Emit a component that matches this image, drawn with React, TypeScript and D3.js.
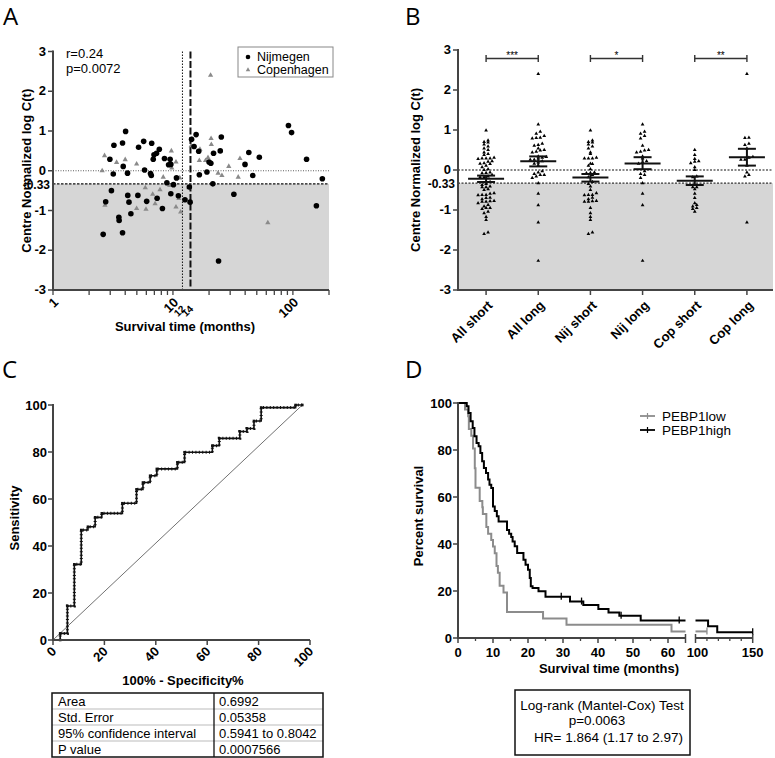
import React from 'react';
import * as d3 from 'd3';

// ---- Panel A: survival time vs centre normalized log C(t)
const nijTime = [3.22, 3.8, 4.03, 2.98, 3.18, 3.85, 4.18, 5.17, 5.7, 6.65, 5.8, 6.5, 6.6, 6.95, 7.3, 6.85, 7.7, 8.5, 9.47, 9.2,
  9.6, 8.9, 10.1, 10.7, 3.07, 2.75, 2.62, 3.54, 3.56, 3.8, 4.2, 4.3, 4.46, 5.1, 6.04, 7.38, 8.17, 9.6, 11.1, 12.6,
  13.7, 13.9, 14.3, 15.6, 15.0, 16.4, 16.6, 19.2, 20.0, 20.7, 21.8, 21.5, 24.8, 25.3, 24.0, 32.2, 39.9, 42.9, 46.3, 52.5,
  91.8, 97.5, 130, 157, 176];
const nijValue = [0.64, 0.70, 0.99, 0.29, -0.08, 0.11, -0.06, 0.59, 0.74, 0.69, 0.02, -0.07, -0.12, 0.40, 0.44, 0.29, 0.54, 0.31, 0.29, 0.15,
  0.16, -0.30, -0.35, -0.18, -0.50, -0.78, -1.60, -1.17, -1.25, -1.56, -0.62, -0.79, -1.08, -0.62, -0.77, -0.69, -0.95, -0.58, -0.63, -0.73,
  -0.41, -0.79, 0.79, 0.91, 0.61, 0.49, -0.10, -0.03, 0.22, 0.19, 0.44, -0.33, 0.50, 0.85, -2.27, -0.59, 0.16, 0.46, -0.12, 0.34,
  1.14, 0.96, 0.29, -0.88, -0.20];
const copTime = [2.69, 2.57, 3.39, 4.0, 4.98, 2.71, 4.98, 5.96, 5.88, 6.78, 7.1, 7.8, 8.3, 9.4, 9.7, 9.78, 10.6, 10.6, 11.6, 11.2,
  11.4, 13.6, 20.6, 14.2, 14.4, 16.8, 16.6, 18.7, 19.6, 20.8, 20.9, 23.8, 25.6, 29.2, 36.2, 35.0, 61.8];
const copValue = [0.38, 0.0, 0.21, 0.28, 0.17, -0.87, -0.95, -0.97, -0.43, -0.59, -0.83, -0.48, -0.16, -0.37, 0.50, 0.07, 0.22, -0.91, -1.04, -0.70,
  -0.18, -0.43, 2.40, 0.63, 0.80, 0.54, 0.26, 0.26, 0.33, 0.81, 0.66, -0.06, -0.12, 0.11, 0.31, -0.16, -1.31];
const cutoffMonths = 14;
const medianMonths = 12;
const cutoffValue = -0.33;
const yTicks = [3, 2, 1, 0, -1, -2, -3];
const xTicksAMinor = [2, 3, 4, 5, 6, 7, 8, 9, 20, 30, 40, 50, 60, 70, 80, 90, 200];
const xTicksAMajor = [1, 10, 100];

// ---- Panel B: groups, mean +/- SEM
const groups = ['All short', 'All long', 'Nij short', 'Nij long', 'Cop short', 'Cop long'];
const groupMean = [-0.22, 0.22, -0.19, 0.165, -0.27, 0.32];
const groupSemHi = [-0.14, 0.34, -0.10, 0.32, -0.16, 0.53];
const groupSemLo = [-0.30, 0.09, -0.29, 0.02, -0.375, 0.11];
const sigPairs: [number, number, string][] = [[0, 1, '***'], [2, 3, '*'], [4, 5, '**']];

// ---- Panel C: ROC
const rocFpr = [2.8, 2.8, 5.6, 8.3, 11, 13.6, 16.4, 19, 27, 32.5, 35, 37.8, 40.4, 48.4, 51.2, 62, 64.7, 72.7, 75.5, 78.2, 81, 94.4, 97];
const rocSens = [0, 2.8, 14.5, 32.2, 46.8, 48.2, 52.2, 53.9, 58.2, 64.1, 67, 69.9, 72.8, 75.6, 79.9, 82.7, 85.8, 88.7, 90, 93.2, 98.9, 100, 100];
const rocTicks = [0, 20, 40, 60, 80, 100];
const rocRows = ['Area', 'Std. Error', '95% confidence interval', 'P value'];
const rocVals = ['0.6992', '0.05358', '0.5941 to 0.8042', '0.0007566'];

// ---- Panel D: Kaplan-Meier
const lowTime = [0, 2.0, 2.9, 3.1, 3.8, 4.3, 4.8, 5.0, 6.2, 6.95, 7.1, 8.1, 8.6, 9.5, 10.0, 10.5, 11.0, 11.4, 11.9, 13.0, 14.0, 24.3, 31.0, 61.0];
const lowSurv = [100, 97.2, 94.4, 88.9, 86.1, 80.6, 72.2, 63.9, 58.3, 55.6, 52.8, 47.2, 44.4, 41.7, 38.9, 36.1, 30.6, 27.8, 22.2, 19.4, 11.1, 8.3, 5.6, 2.8];
const lowEnd = 110;
const lowCensor = [110];
const highTime = [0, 2.5, 3.0, 3.6, 4.2, 4.7, 5.3, 5.9, 6.4, 6.9, 7.4, 8.0, 8.6, 9.0, 9.5, 10.0, 10.5, 11.1, 11.6, 14.0, 14.6, 15.2, 15.6,
  16.2, 16.9, 18.7, 19.3, 20.0, 20.5, 20.8, 21.3, 23.0, 25.0, 32.0, 35.8, 40.1, 43.0, 46.1, 52.2, 111, 119];
const highSurv = [100, 98.6, 95.7, 92.2, 89.4, 85.8, 83.0, 81.6, 78.7, 75.2, 72.3, 70.2, 67.4, 65.2, 63.8, 56.0, 54.0, 51.8, 49.6, 46.0, 44.4, 43.0, 41.1,
  39.0, 36.2, 33.3, 31.2, 29.0, 25.5, 22.0, 21.3, 19.9, 17.6, 15.5, 14.0, 12.3, 10.9, 9.5, 7.4, 5.0, 2.5];
const highEnd = 150;
const highCensor = [29.5, 35.3, 46.6, 63.2, 150];
const kmTicks = [0, 10, 20, 30, 40, 50, 60];
const kmMinor = [5, 15, 25, 35, 45, 55];
const kmTicks2 = [100, 150];
const kmMinor2 = [110, 120, 130, 140];
const pctTicks = [0, 20, 40, 60, 80, 100];

const FONT = 'Arial, "Liberation Sans", Helvetica, sans-serif';
const AXIS = '#444';
const SHADE = '#d6d6d6';

const xA = d3.scaleLog().domain([1, 200]).range([53, 329]);
const yA = d3.scaleLinear().domain([-3, 3]).range([290, 51.5]);
const xB = d3.scalePoint<string>().domain(groups).range([460, 773]).padding(0.5);
const yB = d3.scaleLinear().domain([-3, 3]).range([290, 50]);
const xC = d3.scaleLinear().domain([0, 100]).range([53, 310]);
const yC = d3.scaleLinear().domain([0, 100]).range([640, 405]);
const xD1 = d3.scaleLinear().domain([0, 65]).range([458, 685.5]);
const xD2 = d3.scaleLinear().domain([100, 150]).range([695.5, 752.7]);
const yD = d3.scaleLinear().domain([0, 100]).range([638, 403]);

const tri = d3.symbol().type(d3.symbolTriangle);

function split(times: number[], vals: number[]) {
  const s: number[] = [], l: number[] = [];
  times.forEach((t, i) => (t >= cutoffMonths ? l : s).push(vals[i]));
  return [s, l];
}
const [nijShort, nijLong] = split(nijTime, nijValue);
const [copShort, copLong] = split(copTime, copValue);
const groupValues = [[...nijShort, ...copShort], [...nijLong, ...copLong], nijShort, nijLong, copShort, copLong];

// column scatter: points in the same row are spread sideways
function swarm(vals: number[], cx: number) {
  const pts = vals.map(v => ({ v, py: yB(v) }));
  const bins = d3.group(pts, d => Math.round(d.py / 3.6));
  const out: { x: number; y: number }[] = [];
  bins.forEach(arr => {
    arr.sort((a, b) => a.v - b.v);
    const n = arr.length;
    arr.forEach((d, i) => out.push({ x: cx + (i - (n - 1) / 2) * 4, y: d.py }));
  });
  return out;
}

function levelAt(times: number[], surv: number[], t: number) {
  let s = surv[0];
  times.forEach((tt, i) => { if (tt <= t) s = surv[i]; });
  return s;
}

function kmPath(times: number[], surv: number[], end: number, x: d3.ScaleLinear<number, number>) {
  const [a, b] = x.domain();
  if (end < a) return '';
  const stop = Math.min(b, end);
  const pts: [number, number][] = [[a, levelAt(times, surv, a)]];
  times.forEach((t, i) => { if (t > a && t < stop) pts.push([t, surv[i]]); });
  pts.push([stop, levelAt(times, surv, stop)]);
  return d3.line<[number, number]>().x(d => x(d[0])).y(d => yD(d[1])).curve(d3.curveStepAfter)(pts) || '';
}

function RotLabel({ x, y, text, size = 13 }: { x: number; y: number; text: string; size?: number }) {
  return (
    <text transform={`translate(${x},${y}) rotate(-45)`} textAnchor="end" dy="0.35em" fontSize={size} fontWeight="bold">
      {text}
    </text>
  );
}

function YAxis({ x, scale, ticks, label, labelX, extra }: any) {
  const [r0, r1] = scale.range();
  return (
    <g>
      <line x1={x} x2={x} y1={r0 + 1} y2={r1 - 1} stroke={AXIS} strokeWidth={2} />
      {ticks.map((t: number) => (
        <g key={t}>
          <line x1={x - 5} x2={x} y1={scale(t)} y2={scale(t)} stroke={AXIS} strokeWidth={1.5} />
          <text x={x - 7} y={scale(t)} dy="0.32em" textAnchor="end" fontSize={13} fontWeight="bold">{t}</text>
        </g>
      ))}
      {extra}
      <text transform={`translate(${labelX},${(r0 + r1) / 2}) rotate(-90)`} textAnchor="middle" fontSize={13} fontWeight="bold">{label}</text>
    </g>
  );
}

function PanelA() {
  return (
    <g>
      <rect x={xA(1)} y={yA(cutoffValue)} width={xA(200) - xA(1)} height={yA(-3) - yA(cutoffValue)} fill={SHADE} />
      <line x1={xA(1)} x2={xA(200)} y1={yA(0)} y2={yA(0)} stroke="#333" strokeWidth={0.8} strokeDasharray="1 1.5" />
      <line x1={xA(1)} x2={xA(200)} y1={yA(cutoffValue)} y2={yA(cutoffValue)} stroke="#111" strokeWidth={1.3} strokeDasharray="2.5 1.5" />
      <line x1={xA(medianMonths)} x2={xA(medianMonths)} y1={yA(3)} y2={yA(-3)} stroke="#111" strokeWidth={1} strokeDasharray="1.5 1.5" />
      <line x1={xA(cutoffMonths)} x2={xA(cutoffMonths)} y1={yA(3)} y2={yA(-3)} stroke="#111" strokeWidth={2} strokeDasharray="7 2.5" />
      {copTime.map((t, i) => (
        <path key={'c' + i} d={tri.size(12)()!} transform={`translate(${xA(t)},${yA(copValue[i])})`} fill="#8a8a8a" />
      ))}
      {nijTime.map((t, i) => (
        <circle key={'n' + i} cx={xA(t)} cy={yA(nijValue[i])} r={2.8} fill="#000" />
      ))}
      <YAxis x={53} scale={yA} ticks={yTicks} label="Centre Normalized log C(t)" labelX={31}
        extra={<text x={50} y={yA(cutoffValue)} dy="0.4em" textAnchor="end" fontSize={12} fontWeight="bold">-0.33</text>} />
      <line x1={xA(1) - 1} x2={xA(200)} y1={290} y2={290} stroke={AXIS} strokeWidth={2} />
      {xTicksAMinor.concat(xTicksAMajor).map(t => (
        <line key={t} x1={xA(t)} x2={xA(t)} y1={290} y2={295} stroke={AXIS} strokeWidth={1.3} />
      ))}
      {xTicksAMajor.map(t => <RotLabel key={t} x={xA(t) + 3} y={300} text={String(t)} />)}
      {[medianMonths, cutoffMonths].map(t => <RotLabel key={t} x={xA(t) + 1} y={307} text={String(t)} size={10} />)}
      <text x={185} y={331} textAnchor="middle" fontSize={13} fontWeight="bold">Survival time (months)</text>
      <text x={66} y={58} fontSize={13}>r=0.24</text>
      <text x={66} y={73} fontSize={13}>p=0.0072</text>
      <rect x={238} y={47} width={95} height={30} fill="#fff" stroke="#888" strokeWidth={1} />
      <circle cx={248} cy={57} r={2.3} fill="#000" />
      <text x={257} y={61} fontSize={12.5}>Nijmegen</text>
      <path d={tri.size(9)()!} transform="translate(248,70)" fill="#8a8a8a" />
      <text x={257} y={73.5} fontSize={12.5}>Copenhagen</text>
    </g>
  );
}

function PanelB() {
  const half = 18, cap = 9;
  return (
    <g>
      <rect x={458} y={yB(cutoffValue)} width={773 - 458} height={yB(-3) - yB(cutoffValue)} fill={SHADE} />
      <line x1={458} x2={773} y1={yB(0)} y2={yB(0)} stroke="#111" strokeWidth={1.2} strokeDasharray="2 1.5" />
      <line x1={458} x2={773} y1={yB(cutoffValue)} y2={yB(cutoffValue)} stroke="#333" strokeWidth={1.2} strokeDasharray="2 1.5" />
      {groups.map((g, gi) => swarm(groupValues[gi], xB(g)!).map((p, i) => (
        <path key={g + i} d={tri.size(6)()!} transform={`translate(${p.x},${p.y})`} fill="#000" />
      )))}
      {groups.map((g, gi) => {
        const cx = xB(g)!;
        return (
          <g key={g} stroke="#111" strokeWidth={2}>
            <line x1={cx - half} x2={cx + half} y1={yB(groupMean[gi])} y2={yB(groupMean[gi])} />
            <line x1={cx} x2={cx} y1={yB(groupSemHi[gi])} y2={yB(groupSemLo[gi])} />
            <line x1={cx - cap} x2={cx + cap} y1={yB(groupSemHi[gi])} y2={yB(groupSemHi[gi])} />
            <line x1={cx - cap} x2={cx + cap} y1={yB(groupSemLo[gi])} y2={yB(groupSemLo[gi])} />
          </g>
        );
      })}
      {sigPairs.map(([a, b, s]) => {
        const x1 = xB(groups[a])!, x2 = xB(groups[b])!;
        return (
          <g key={s}>
            <line x1={x1} x2={x2} y1={58.5} y2={58.5} stroke="#333" strokeWidth={1.4} />
            <line x1={x1} x2={x1} y1={55} y2={62} stroke="#333" strokeWidth={1.4} />
            <line x1={x2} x2={x2} y1={55} y2={62} stroke="#333" strokeWidth={1.4} />
            <text x={(x1 + x2) / 2} y={59} textAnchor="middle" fontSize={10} fill="#000">{s}</text>
          </g>
        );
      })}
      <YAxis x={458} scale={yB} ticks={yTicks} label="Centre Normalized log C(t)" labelX={420}
        extra={<text x={455} y={yB(cutoffValue)} dy="0.4em" textAnchor="end" fontSize={12} fontWeight="bold">-0.33</text>} />
      <line x1={457} x2={773} y1={290} y2={290} stroke={AXIS} strokeWidth={2} />
      {groups.map(g => (
        <g key={g}>
          <line x1={xB(g)!} x2={xB(g)!} y1={290} y2={295} stroke={AXIS} strokeWidth={1.5} />
          <RotLabel x={xB(g)! + 4} y={303} text={g} />
        </g>
      ))}
    </g>
  );
}

function PanelC() {
  const pts = rocFpr.map((f, i) => [f, rocSens[i]] as [number, number]);
  const path = d3.line<[number, number]>().x(d => xC(d[0])).y(d => yC(d[1])).curve(d3.curveStepAfter)(pts) || '';
  return (
    <g>
      <line x1={xC(0)} y1={yC(0)} x2={xC(97)} y2={yC(100)} stroke="#333" strokeWidth={0.7} />
      <path d={path} fill="none" stroke="#111" strokeWidth={1.6} />
      <path d={path} fill="none" stroke="#111" strokeWidth={3} strokeDasharray="1 2.4" />
      {pts.map((d, i) => <rect key={i} x={xC(d[0]) - 1.3} y={yC(d[1]) - 1.3} width={2.6} height={2.6} fill="#111" />)}
      <line x1={53} x2={53} y1={641} y2={404} stroke={AXIS} strokeWidth={2} />
      {rocTicks.map(t => (
        <g key={t}>
          <line x1={48} x2={53} y1={yC(t)} y2={yC(t)} stroke={AXIS} strokeWidth={1.5} />
          <text x={47} y={yC(t)} dy="0.35em" textAnchor="end" fontSize={13} fontWeight="bold">{t}</text>
        </g>
      ))}
      <line x1={52} x2={310} y1={640} y2={640} stroke={AXIS} strokeWidth={2} />
      {rocTicks.map(t => (
        <g key={t}>
          <line x1={xC(t)} x2={xC(t)} y1={640} y2={645} stroke={AXIS} strokeWidth={1.5} />
          <RotLabel x={xC(t) + 1} y={649} text={String(t)} />
        </g>
      ))}
      <text transform="translate(19,518) rotate(-90)" textAnchor="middle" fontSize={13} fontWeight="bold">Sensitivity</text>
      <text x={183} y={685} textAnchor="middle" fontSize={13} fontWeight="bold">100% - Specificity%</text>
      {rocRows.map((r, i) => (
        <g key={r}>
          {i > 0 && <line x1={52} x2={323} y1={693 + 16 * i} y2={693 + 16 * i} stroke="#bbb" strokeWidth={1} />}
          <text x={58} y={706 + 16 * i} fontSize={13}>{r}</text>
          <text x={219} y={706 + 16 * i} fontSize={13}>{rocVals[i]}</text>
        </g>
      ))}
      <line x1={214} x2={214} y1={693} y2={757} stroke="#111" strokeWidth={1.3} />
      <rect x={52} y={693} width={271} height={64} fill="none" stroke="#111" strokeWidth={1.5} />
    </g>
  );
}

function PanelD() {
  const curves = [
    { t: lowTime, s: lowSurv, end: lowEnd, cen: lowCensor, color: '#8c8c8c' },
    { t: highTime, s: highSurv, end: highEnd, cen: highCensor, color: '#000' },
  ];
  return (
    <g>
      {curves.map((c, ci) => (
        <g key={ci}>
          <path d={kmPath(c.t, c.s, c.end, xD1)} fill="none" stroke={c.color} strokeWidth={2} />
          <path d={kmPath(c.t, c.s, c.end, xD2)} fill="none" stroke={c.color} strokeWidth={2} />
          {c.cen.map(t => {
            const x = t <= 65 ? xD1(t) : xD2(t);
            const y = yD(levelAt(c.t, c.s, t));
            return <line key={t} x1={x} x2={x} y1={y - 4} y2={y + 3} stroke={c.color} strokeWidth={1.3} />;
          })}
        </g>
      ))}
      <line x1={458} x2={458} y1={639} y2={402} stroke={AXIS} strokeWidth={2} />
      {pctTicks.map(t => (
        <g key={t}>
          <line x1={453} x2={458} y1={yD(t)} y2={yD(t)} stroke={AXIS} strokeWidth={1.5} />
          <text x={452} y={yD(t)} dy="0.35em" textAnchor="end" fontSize={13} fontWeight="bold">{t}</text>
        </g>
      ))}
      <line x1={457} x2={685.5} y1={638} y2={638} stroke={AXIS} strokeWidth={2} />
      <line x1={695.5} x2={752.7} y1={638} y2={638} stroke={AXIS} strokeWidth={2} />
      <line x1={685.5} x2={685.5} y1={634} y2={643} stroke={AXIS} strokeWidth={1.5} />
      <line x1={695.5} x2={695.5} y1={634} y2={643} stroke={AXIS} strokeWidth={1.5} />
      <line x1={752.7} x2={752.7} y1={634} y2={643} stroke={AXIS} strokeWidth={1.5} />
      {kmMinor.map(t => <line key={t} x1={xD1(t)} x2={xD1(t)} y1={638} y2={641} stroke={AXIS} strokeWidth={1.3} />)}
      {kmMinor2.map(t => <line key={t} x1={xD2(t)} x2={xD2(t)} y1={638} y2={641} stroke={AXIS} strokeWidth={1.3} />)}
      {kmTicks.map(t => (
        <g key={t}>
          <line x1={xD1(t)} x2={xD1(t)} y1={638} y2={643} stroke={AXIS} strokeWidth={1.5} />
          <text x={xD1(t)} y={657} textAnchor="middle" fontSize={13} fontWeight="bold">{t}</text>
        </g>
      ))}
      {kmTicks2.map(t => (
        <text key={t} x={xD2(t) + (t === 100 ? 2 : 0)} y={657} textAnchor="middle" fontSize={13} fontWeight="bold">{t}</text>
      ))}
      <text transform="translate(423,516) rotate(-90)" textAnchor="middle" fontSize={13} fontWeight="bold">Percent survival</text>
      <text x={609} y={672.5} textAnchor="middle" fontSize={13} fontWeight="bold">Survival time (months)</text>
      <line x1={640} x2={655} y1={416} y2={416} stroke="#8c8c8c" strokeWidth={1.8} />
      <line x1={647.5} x2={647.5} y1={413} y2={419} stroke="#8c8c8c" strokeWidth={1.2} />
      <text x={662} y={421} fontSize={13.5}>PEBP1low</text>
      <line x1={640} x2={655} y1={430} y2={430} stroke="#000" strokeWidth={1.8} />
      <line x1={647.5} x2={647.5} y1={427} y2={433} stroke="#000" strokeWidth={1.2} />
      <text x={662} y={435} fontSize={13.5}>PEBP1high</text>
      <rect x={515} y={690} width={175} height={65} fill="none" stroke="#111" strokeWidth={1.5} />
      <text x={602} y={709.5} textAnchor="middle" fontSize={13.5}>Log-rank (Mantel-Cox) Test</text>
      <text x={597} y={725} textAnchor="middle" fontSize={13.5}>p=0.0063</text>
      <text x={608.5} y={742} textAnchor="middle" fontSize={13.5}>HR= 1.864 (1.17 to 2.97)</text>
    </g>
  );
}

export default function App() {
  return (
    <svg width={775} height={758} viewBox="0 0 775 758"
      style={{ position: 'absolute', left: 0, top: 0, background: '#fff' }} fontFamily={FONT}>
      <rect width={775} height={758} fill="#fff" />
      <PanelA />
      <PanelB />
      <PanelC />
      <PanelD />
      <g fontFamily='"Open Sans", "DejaVu Sans", sans-serif' fontSize={24}>
        <text x={3} y={25}>A</text>
        <text x={405} y={25}>B</text>
        <text x={2} y={378}>C</text>
        <text x={405} y={378}>D</text>
      </g>
    </svg>
  );
}
